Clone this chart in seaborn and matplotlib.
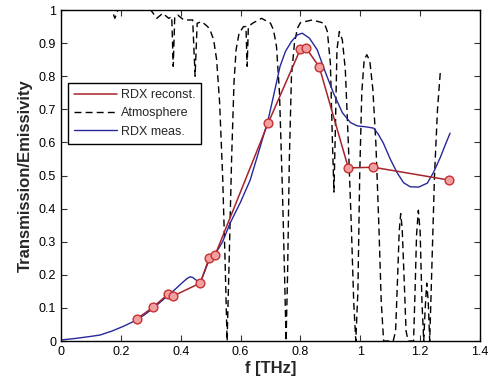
import numpy as np
import pandas as pd
import matplotlib
matplotlib.use("Agg")
import matplotlib.pyplot as plt
import seaborn as sns

# ---- data ----
rec_f = [0.254, 0.307, 0.358, 0.375, 0.465, 0.495, 0.515, 0.692, 0.800, 0.819, 0.863, 0.960, 1.044, 1.298]
rec_t = [0.067, 0.102, 0.142, 0.136, 0.175, 0.250, 0.260, 0.658, 0.882, 0.885, 0.828, 0.523, 0.525, 0.486]

meas_f = [0.0, 0.05, 0.10, 0.13, 0.17, 0.21, 0.254, 0.28, 0.307, 0.33, 0.358, 0.38, 0.40, 0.42,
          0.431, 0.44, 0.45, 0.465, 0.48, 0.495, 0.515, 0.54, 0.565, 0.60, 0.632, 0.66, 0.692,
          0.71, 0.732, 0.75, 0.77, 0.79, 0.806, 0.83, 0.856, 0.88, 0.91, 0.94, 0.967, 0.99,
          1.02, 1.045, 1.06, 1.077, 1.10, 1.124, 1.145, 1.167, 1.195, 1.224, 1.245, 1.268,
          1.285, 1.30]
meas_t = [0.003, 0.008, 0.014, 0.018, 0.03, 0.045, 0.064, 0.08, 0.098, 0.116, 0.138, 0.155, 0.172,
          0.188, 0.194, 0.192, 0.185, 0.176, 0.21, 0.245, 0.262, 0.30, 0.356, 0.42, 0.486, 0.57,
          0.668, 0.74, 0.83, 0.875, 0.905, 0.925, 0.93, 0.915, 0.88, 0.82, 0.75, 0.69, 0.66,
          0.65, 0.647, 0.643, 0.625, 0.598, 0.55, 0.507, 0.478, 0.466, 0.465, 0.477, 0.51,
          0.556, 0.595, 0.628]

atm_f = [0.0, 0.17, 0.18, 0.19, 0.30, 0.32, 0.34, 0.36, 0.37, 0.375, 0.38, 0.39, 0.41, 0.44,
         0.448, 0.455, 0.47, 0.49, 0.50, 0.51, 0.52, 0.53, 0.54, 0.548, 0.555, 0.562, 0.57,
         0.578, 0.585, 0.595, 0.61, 0.618, 0.622, 0.626, 0.64, 0.67, 0.70, 0.71, 0.72, 0.73,
         0.74, 0.747, 0.752, 0.757, 0.763, 0.77, 0.78, 0.79, 0.80, 0.84, 0.88, 0.89, 0.90,
         0.907, 0.912, 0.917, 0.922, 0.93, 0.94, 0.95, 0.96, 0.97, 0.978, 0.985, 0.992, 0.998,
         1.005, 1.013, 1.022, 1.032, 1.042, 1.052, 1.062, 1.07, 1.078, 1.11, 1.118, 1.125, 1.13,
         1.135, 1.14, 1.146, 1.153, 1.16, 1.178, 1.183, 1.188, 1.194, 1.20, 1.206, 1.212,
         1.217, 1.222, 1.227, 1.232, 1.24, 1.248, 1.258, 1.268]
atm_t = [1.0, 1.0, 0.975, 1.0, 1.0, 0.975, 0.99, 0.975, 0.98, 0.83, 0.98, 0.985, 0.97, 0.97,
         0.80, 0.96, 0.965, 0.95, 0.935, 0.91, 0.85, 0.72, 0.50, 0.25, 0.0, 0.25, 0.55,
         0.78, 0.88, 0.93, 0.95, 0.95, 0.83, 0.95, 0.96, 0.975, 0.96, 0.94, 0.89, 0.75,
         0.45, 0.20, 0.0, 0.20, 0.55, 0.80, 0.90, 0.945, 0.962, 0.97, 0.96, 0.935, 0.84,
         0.60, 0.45, 0.65, 0.88, 0.935, 0.91, 0.82, 0.60, 0.35, 0.12, 0.0, 0.15, 0.50,
         0.75, 0.85, 0.865, 0.845, 0.76, 0.60, 0.35, 0.12, 0.0, 0.0, 0.03, 0.20, 0.33,
         0.385, 0.34, 0.20, 0.03, 0.0, 0.0, 0.15, 0.32, 0.395, 0.33, 0.12, 0.0,
         0.10, 0.175, 0.12, 0.0, 0.25, 0.50, 0.70, 0.82]

x_ticks = [0, 0.2, 0.4, 0.6, 0.8, 1, 1.2, 1.4]
y_ticks = [0, 0.1, 0.2, 0.3, 0.4, 0.5, 0.6, 0.7, 0.8, 0.9, 1]

rec = pd.DataFrame({"f": rec_f, "t": rec_t})
meas = pd.DataFrame({"f": meas_f, "t": meas_t})
atm = pd.DataFrame({"f": atm_f, "t": atm_t})

sns.set_style("ticks")
plt.rcParams["font.family"] = ["Liberation Sans", "DejaVu Sans"]

fig = plt.figure(figsize=(4.92, 3.80), dpi=100)
ax = fig.add_axes([0.124, 0.1026, 0.8516, 0.871])

RED = "#a5232b"
BLUE = "#27279a"

sns.lineplot(data=atm, x="f", y="t", ax=ax, color="black", lw=1.0,
             linestyle=(0, (5, 3)), estimator=None, sort=False, label="Atmosphere")
sns.lineplot(data=meas, x="f", y="t", ax=ax, color=BLUE, lw=1.0,
             estimator=None, sort=False, label="RDX meas.")
sns.lineplot(data=rec, x="f", y="t", ax=ax, color=RED, lw=1.1, marker="o",
             markersize=6.3, markerfacecolor="#f0a0a0", markeredgecolor="#c83030",
             markeredgewidth=1.0, estimator=None, sort=False, label="RDX reconst.")

ax.set_xlim(0, 1.4)
ax.set_ylim(0, 1)
ax.set_xticks(x_ticks)
ax.set_xticklabels([f"{v:g}" for v in x_ticks])
ax.set_yticks(y_ticks)
ax.set_yticklabels([f"{v:g}" for v in y_ticks])
ax.tick_params(direction="in", top=True, right=True, labelsize=9, length=4,
               colors="#333333", labelcolor="black")
for sp in ax.spines.values():
    sp.set_visible(True)
    sp.set_color("black")
    sp.set_linewidth(1.0)

ax.set_xlabel("f [THz]", fontsize=12, fontweight="bold", labelpad=2)
ax.set_ylabel("Transmission/Emissivity", fontsize=12, fontweight="bold", labelpad=4)

h, l = ax.get_legend_handles_labels()
order = [l.index("RDX reconst."), l.index("Atmosphere"), l.index("RDX meas.")]
leg = ax.legend([h[i] for i in order], [l[i] for i in order],
                loc="upper left", bbox_to_anchor=(0.017, 0.78), fontsize=9,
                frameon=True, fancybox=False, edgecolor="black", framealpha=1,
                handlelength=3.4, borderpad=0.5, labelspacing=0.5, handletextpad=0.3,
                borderaxespad=0)
leg.get_frame().set_linewidth(1.0)
for line in leg.get_lines():
    line.set_marker("")

fig.savefig("out.png", dpi=100)
